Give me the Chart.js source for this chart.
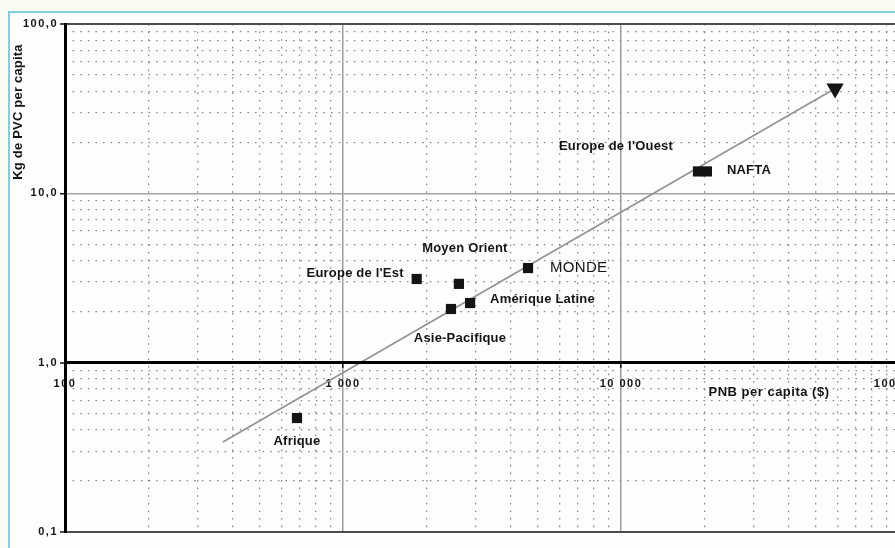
<!DOCTYPE html>
<html lang="fr">
<head>
<meta charset="utf-8">
<title>PVC et PNB par habitant</title>
<script src="https://cdn.jsdelivr.net/npm/chart.js@4.4.1/dist/chart.umd.min.js"></script>
<style>
  html, body { margin: 0; padding: 0; width: 895px; height: 548px; overflow: hidden; background: #fbfbf6; }
  #frame { position: absolute; left: 8px; top: 11px; width: 1000px; height: 1000px;
           border-left: 2px solid #7fcfe0; border-top: 2px solid #7fcfe0; background: #fefefe; }
  #chart { position: absolute; left: 0; top: 0; }
</style>
</head>
<body>
<div id="frame"></div>
<canvas id="chart" width="930" height="548"></canvas>
<script>
// Régions du monde
const regions = ["Afrique", "Asie-Pacifique", "Europe de l'Est", "Moyen Orient",
                 "Amérique Latine", "MONDE", "Europe de l'Ouest", "NAFTA"];
// PNB par habitant ($)
const pnbPerCapita = [683, 2446, 1841, 2612, 2865, 4630, 18920, 20370];
// Consommation de PVC (kg par habitant)
const pvcPerCapita = [0.471, 2.075, 3.12, 2.92, 2.25, 3.62, 13.47, 13.47];
// Droite de tendance ; le second point porte le triangle
const trendPnb = [370, 58900];
const trendPvc = [0.34, 41.6];
// Graduations des axes
const xTickValues = [100, 1000, 10000, 100000];
const xTickLabels = ["100", "1 000", "10 000", "100 000"];
const yTickValues = [0.1, 1, 10, 100];
const yTickLabels = ["0,1", "1,0", "10,0", "100,0"];
const minorSteps = [2, 3, 4, 5, 6, 7, 8, 9];

const FONT = '"Liberation Sans", Arial, Helvetica, sans-serif';
const INK = '#141414';

// Placement des étiquettes autour de chaque point (décalages en pixels)
const labelPlacement = {
  "Afrique":           { dx: 0,   dy: 23,   align: 'center' },
  "Asie-Pacifique":    { dx: 9,   dy: 29,   align: 'center' },
  "Europe de l'Est":   { dx: -13, dy: -6,   align: 'right' },
  "Moyen Orient":      { dx: 6,   dy: -35,  align: 'center' },
  "Amérique Latine":   { dx: 20,  dy: -4,   align: 'left' },
  "MONDE":             { dx: 22,  dy: 0,    align: 'left', font: 'normal 15px ' + FONT },
  "Europe de l'Ouest": { dx: -82, dy: -25,  align: 'center' },
  "NAFTA":             { dx: 20,  dy: -1.5, align: 'left' }
};

function minorTicks(decades) {
  const out = [];
  decades.slice(0, -1).forEach(d => minorSteps.forEach(m => out.push(d * m)));
  return out;
}
const asTicks = values => values.map(v => ({ value: v }));

// Espacement des lettres des graduations
const tickSpacing = {
  id: 'tickSpacing',
  beforeDraw(chart) { chart.ctx.letterSpacing = '1.5px'; },
  afterDraw(chart) { chart.ctx.letterSpacing = '0px'; }
};

// Étiquettes des régions et titres des axes
const annotations = {
  id: 'annotations',
  afterDatasetsDraw(chart) {
    const { ctx, chartArea, scales } = chart;
    const meta = chart.getDatasetMeta(0);
    ctx.save();
    ctx.fillStyle = INK;
    ctx.textBaseline = 'middle';
    regions.forEach((name, i) => {
      const el = meta.data[i];
      const p = labelPlacement[name];
      if (!el || !p) return;
      ctx.font = p.font || ('bold 13px ' + FONT);
      ctx.letterSpacing = p.font ? '0.3px' : '0.2px';
      ctx.textAlign = p.align;
      ctx.fillText(name, el.x + p.dx, el.y + p.dy);
    });
    // titre de l'axe horizontal, sous la ligne de l'unité
    ctx.font = 'bold 13px ' + FONT;
    ctx.letterSpacing = '0.5px';
    ctx.textAlign = 'center';
    ctx.fillText('PNB per capita ($)', chartArea.left + 704, scales.y.getPixelForValue(1) + 30);
    // titre de l'axe vertical
    ctx.translate(18.5, chartArea.top + 88);
    ctx.rotate(-Math.PI / 2);
    ctx.letterSpacing = '0.2px';
    ctx.fillText('Kg de PVC per capita', 0, 0);
    ctx.restore();
  }
};

const tickFont = { family: FONT, size: 11, weight: 'bold' };

new Chart(document.getElementById('chart'), {
  type: 'scatter',
  data: {
    datasets: [
      {
        label: 'Régions',
        data: regions.map((r, i) => ({ x: pnbPerCapita[i], y: pvcPerCapita[i] })),
        pointStyle: 'rect',
        pointRadius: 7.2,
        backgroundColor: '#141414',
        borderColor: '#141414',
        borderWidth: 0,
        order: 0
      },
      {
        label: 'Tendance',
        data: trendPnb.map((x, i) => ({ x, y: trendPvc[i] })),
        showLine: true,
        borderColor: '#929292',
        borderWidth: 1.6,
        pointStyle: 'triangle',
        rotation: 180,
        pointRadius: [0, 10],
        pointBackgroundColor: '#141414',
        pointBorderColor: '#141414',
        pointBorderWidth: 0,
        order: 1
      }
    ]
  },
  options: {
    responsive: false,
    animation: false,
    layout: { padding: { left: 0, top: 24, right: 31, bottom: 16 } },
    plugins: { legend: { display: false }, tooltip: { enabled: false } },
    scales: {
      xMinor: {
        type: 'logarithmic', axis: 'x', position: { y: 1 }, min: 100, max: 100000,
        afterBuildTicks: s => { s.ticks = asTicks(minorTicks(xTickValues)); },
        ticks: { display: false, autoSkip: false },
        grid: { color: '#8a8a8a', lineWidth: 1.3, drawTicks: false },
        border: { display: false, dash: [1.6, 6] }
      },
      yMinor: {
        type: 'logarithmic', axis: 'y', position: { x: 100 }, min: 0.1, max: 100,
        afterBuildTicks: s => { s.ticks = asTicks(minorTicks(yTickValues)); },
        ticks: { display: false, autoSkip: false },
        grid: { color: '#8a8a8a', lineWidth: 1.3, drawTicks: false },
        border: { display: false, dash: [1.6, 6] }
      },
      x: {
        type: 'logarithmic', position: { y: 1 }, min: 100, max: 100000,
        afterBuildTicks: s => { s.ticks = asTicks(xTickValues); },
        afterFit: s => { s.paddingLeft = 0; s.paddingRight = 0; },
        ticks: {
          autoSkip: false, maxRotation: 0, padding: 11, color: INK, font: tickFont,
          callback: v => xTickLabels[xTickValues.indexOf(v)]
        },
        grid: {
          color: c => c.tick && c.tick.value === 100 ? '#000' : '#9c9c9c',
          lineWidth: 1.5, tickLength: 4, tickColor: '#111', tickWidth: 1.5
        },
        border: { display: true, color: '#000', width: 3, z: 1 }
      },
      y: {
        type: 'logarithmic', position: 'left', min: 0.1, max: 100,
        afterBuildTicks: s => { s.ticks = asTicks(yTickValues); },
        afterFit: s => { s.width = 65; },
        ticks: {
          autoSkip: false, padding: 2, color: INK, font: tickFont,
          callback: v => yTickLabels[yTickValues.indexOf(v)]
        },
        grid: {
          color: c => (c.tick && c.tick.value === 10) ? '#a3a3a3' : '#4d4d4d',
          lineWidth: c => (c.tick && c.tick.value === 10) ? 1.5 : 2,
          tickLength: 5, tickColor: '#111', tickWidth: 1.5
        },
        border: { display: true, color: '#000', width: 3, z: 1 }
      }
    }
  },
  plugins: [tickSpacing, annotations]
});
</script>
</body>
</html>
